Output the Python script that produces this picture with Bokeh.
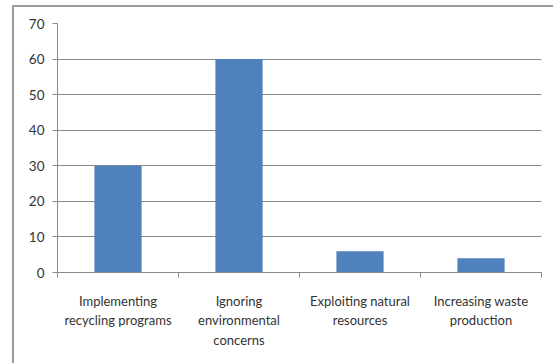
from bokeh.plotting import figure
from bokeh.models import ColumnDataSource, FixedTicker, Range1d
from bokeh.embed import file_html
from bokeh.resources import INLINE

# Survey responses per category
categories = [
    "Implementing\nrecycling programs",
    "Ignoring\nenvironmental\nconcerns",
    "Exploiting natural\nresources",
    "Increasing waste\nproduction",
]
values = [30, 60, 6, 4]
y_ticks = [0, 10, 20, 30, 40, 50, 60, 70]

positions = list(range(1, len(categories) + 1))
source = ColumnDataSource(data=dict(x=positions, top=values))

FONT = "Lato"
TEXT = "#333333"
GRID = "#8a8a8a"

p = figure(
    width=541,
    height=358,
    output_backend="svg",
    toolbar_location=None,
    x_range=Range1d(0.5, len(categories) + 0.5),
    y_range=Range1d(0, 70),
    min_border_left=43,
    min_border_right=14,
    min_border_top=16,
    min_border_bottom=93,
    outline_line_color=None,
    background_fill_color="white",
    border_fill_color="white",
)
p.margin = (5, 0, 0, 12)
p.styles = {"border-top": "2px solid #9a9a9a", "border-left": "2px solid #9a9a9a"}

p.vbar(x="x", top="top", width=0.39, source=source,
       fill_color="#4f81bd", line_color=None)

# x axis: labels centred under bars, small ticks at category boundaries
p.xaxis.ticker = FixedTicker(
    ticks=positions,
    minor_ticks=[i + 0.5 for i in range(0, len(categories) + 1)],
)
p.xaxis.major_label_overrides = {pos: lab for pos, lab in zip(positions, categories)}
p.xaxis.major_tick_out = 0
p.xaxis.major_tick_in = 0
p.xaxis.minor_tick_out = 5
p.xaxis.minor_tick_in = 0
p.xaxis.minor_tick_line_color = GRID
p.xaxis.axis_line_color = GRID
p.xaxis.major_label_standoff = 15
p.xaxis.major_label_text_font = FONT
p.xaxis.major_label_text_font_size = "13px"
p.xaxis.major_label_text_color = TEXT
p.xaxis.major_label_text_line_height = 1.22

# y axis
p.yaxis.ticker = FixedTicker(ticks=y_ticks)
p.yaxis.minor_tick_line_color = None
p.yaxis.major_tick_out = 5
p.yaxis.major_tick_in = 0
p.yaxis.major_tick_line_color = GRID
p.yaxis.axis_line_color = GRID
p.yaxis.major_label_standoff = 8
p.yaxis.major_label_text_font = FONT
p.yaxis.major_label_text_font_size = "13.5px"
p.yaxis.major_label_text_color = TEXT

p.xgrid.grid_line_color = None
p.ygrid.grid_line_color = GRID
p.ygrid.grid_line_width = 1

open("out.html", "w").write(file_html(p, INLINE))
